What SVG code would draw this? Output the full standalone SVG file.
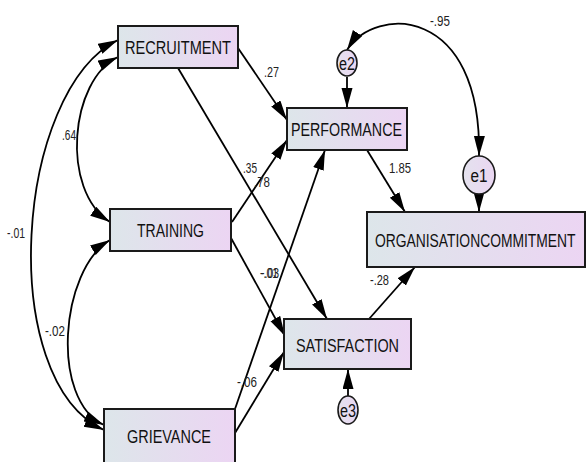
<svg xmlns="http://www.w3.org/2000/svg" width="587" height="462" viewBox="0 0 587 462">
<style>
.box{stroke:#1a1a1a;stroke-width:2;fill:url(#g)}
.ell{stroke:#1a1a1a;stroke-width:1.6;fill:url(#ge)}
.nt{font-family:"Liberation Sans Narrow","Liberation Sans",Arial,sans-serif;font-size:18px;fill:#111}
.lb{font-family:"Liberation Sans Narrow","Liberation Sans",Arial,sans-serif;font-size:14px;fill:#222}
.ln{stroke:#000;stroke-width:1.8;fill:none;marker-end:url(#ah)}
.bi{stroke:#000;stroke-width:1.8;fill:none;marker-end:url(#ah);marker-start:url(#ah)}
</style>
<defs>
<linearGradient id="g" x1="0" y1="0" x2="1" y2="0">
<stop offset="0" stop-color="#dde6ea"/>
<stop offset="1" stop-color="#ecd5f3"/>
</linearGradient>
<linearGradient id="ge" x1="0" y1="0" x2="1" y2="0">
<stop offset="0" stop-color="#e4e2ee"/>
<stop offset="1" stop-color="#ead6f2"/>
</linearGradient>
<marker id="ah" markerUnits="userSpaceOnUse" markerWidth="22" markerHeight="14" refX="20" refY="5.5" orient="auto-start-reverse">
<path d="M0,0 L20,5.5 L0,11 z" fill="#000"/>
</marker>
</defs>
<rect width="587" height="462" fill="#fff"/>
<g id="connectors">
<path class="ln" d="M238,48 L287,120"/>
<path class="ln" d="M178,68 L327,319"/>
<path class="ln" d="M232,222 L287,140"/>
<path class="ln" d="M231,238 L285,336"/>
<path class="ln" d="M235,409 L325,150"/>
<path class="ln" d="M235,433 L284,352"/>
<path class="ln" d="M367,150 L405,212"/>
<path class="ln" d="M369,319 L415,267"/>
<path class="ln" d="M347,77 L347,108"/>
<path class="ln" d="M479,193 L479,212"/>
<path class="ln" d="M348,396 L348,369"/>
<path class="bi" d="M118,57 C70,80 60,190 110,222"/>
<path class="bi" d="M118,40 C15,90 -5,380 104,430"/>
<path class="bi" d="M110,240 C60,270 50,400 104,425"/>
<path class="bi" d="M347,50 C375,5 482,5 479,156"/>
<text class="lb" x="264" y="77" textLength="15" lengthAdjust="spacingAndGlyphs">.27</text>
<text class="lb" x="62" y="140" textLength="14" lengthAdjust="spacingAndGlyphs">.64</text>
<text class="lb" x="243" y="173" textLength="14" lengthAdjust="spacingAndGlyphs">.35</text>
<text class="lb" x="254" y="187" textLength="16" lengthAdjust="spacingAndGlyphs">.78</text>
<text class="lb" x="260" y="278" textLength="18" lengthAdjust="spacingAndGlyphs">-.01</text>
<text class="lb" x="261" y="278" textLength="18" lengthAdjust="spacingAndGlyphs">-.03</text>
<text class="lb" x="45" y="336" textLength="20" lengthAdjust="spacingAndGlyphs">-.02</text>
<text class="lb" x="7" y="238" textLength="18" lengthAdjust="spacingAndGlyphs">-.01</text>
<text class="lb" x="237" y="387" textLength="20" lengthAdjust="spacingAndGlyphs">-.06</text>
<text class="lb" x="389" y="173" textLength="22" lengthAdjust="spacingAndGlyphs">1.85</text>
<text class="lb" x="430" y="26" textLength="20" lengthAdjust="spacingAndGlyphs">-.95</text>
<text class="lb" x="370" y="285" textLength="19" lengthAdjust="spacingAndGlyphs">-.28</text>
</g>
<g id="recruitment">
<rect class="box" x="118" y="26" width="120" height="42"/>
<text class="nt" x="125" y="54" textLength="106" lengthAdjust="spacingAndGlyphs">RECRUITMENT</text>
</g>
<g id="performance">
<rect class="box" x="287" y="108" width="120" height="42"/>
<text class="nt" x="291" y="136" textLength="111" lengthAdjust="spacingAndGlyphs">PERFORMANCE</text>
</g>
<g id="training">
<rect class="box" x="110" y="209" width="121" height="42"/>
<text class="nt" x="137" y="237" textLength="67" lengthAdjust="spacingAndGlyphs">TRAINING</text>
</g>
<g id="satisfaction">
<rect class="box" x="284" y="319" width="127" height="50"/>
<text class="nt" x="296" y="352" textLength="103" lengthAdjust="spacingAndGlyphs">SATISFACTION</text>
</g>
<g id="grievance">
<rect class="box" x="104" y="409" width="131" height="62"/>
<text class="nt" x="127" y="443" textLength="84" lengthAdjust="spacingAndGlyphs">GRIEVANCE</text>
</g>
<g id="organisationcommitment">
<rect class="box" x="367" y="212" width="218" height="55"/>
<text class="nt" transform="translate(375,247) scale(0.77,1)" x="0" y="0">ORGANISATIONCOMMITMENT</text>
</g>
<g id="e2">
<ellipse class="ell" cx="347" cy="63" rx="10" ry="13"/>
<text class="nt" x="347" y="70" text-anchor="middle" font-size="17" textLength="16" lengthAdjust="spacingAndGlyphs">e2</text>
</g>
<g id="e1">
<ellipse class="ell" cx="479" cy="175" rx="16" ry="19"/>
<text class="nt" x="479" y="182" text-anchor="middle" font-size="18" textLength="17" lengthAdjust="spacingAndGlyphs">e1</text>
</g>
<g id="e3">
<ellipse class="ell" cx="348" cy="410" rx="10" ry="14"/>
<text class="nt" x="348" y="417" text-anchor="middle" font-size="17" textLength="16" lengthAdjust="spacingAndGlyphs">e3</text>
</g>
</svg>
